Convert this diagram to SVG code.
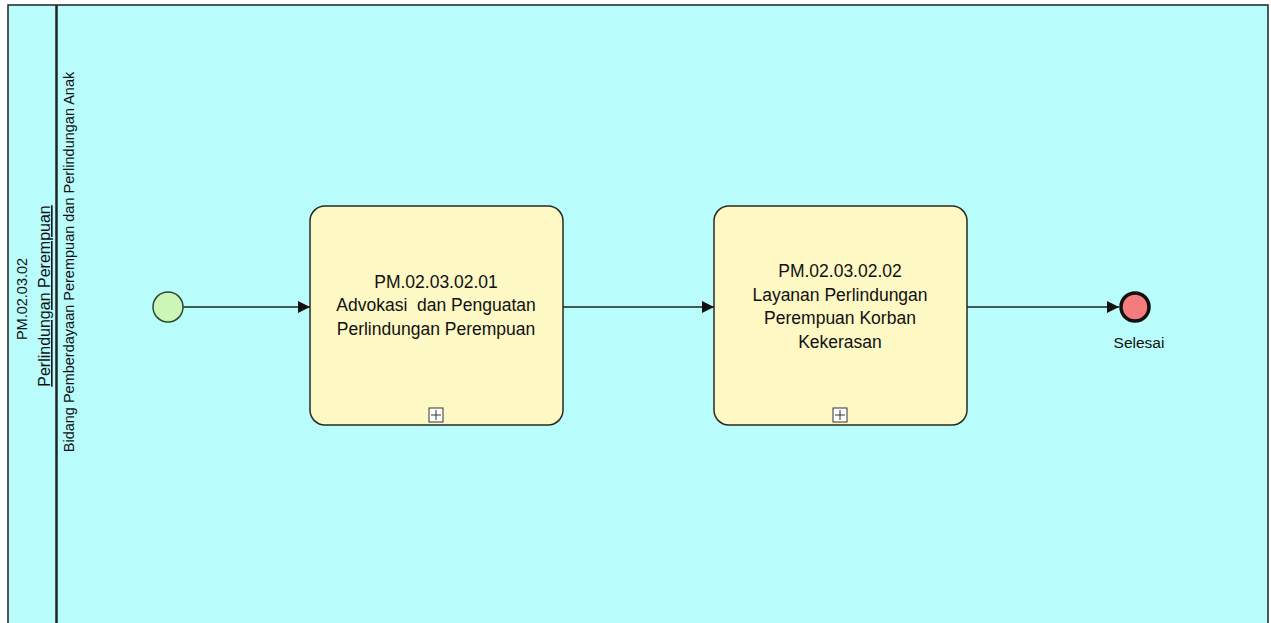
<svg xmlns="http://www.w3.org/2000/svg" width="1271" height="623" viewBox="0 0 1271 623">
<style>
text{font-family:"Liberation Sans",Arial,sans-serif;font-size:17.5px;fill:#111;white-space:pre}
.lane{font-size:14.5px}
.hd{font-size:16px}
.sm{font-size:15.5px}
.task{fill:#fdf8c4;stroke:#2a2a20;stroke-width:1.5}
.conn{stroke:#222;stroke-width:1.5;fill:none}
.tc{text-anchor:middle}
</style>
<defs>
<marker id="arr" markerWidth="12" markerHeight="12" refX="12" refY="6" orient="auto" markerUnits="userSpaceOnUse" viewBox="0 0 12 12">
<path d="M0,0 L12,6 L0,12 z" fill="#111"/>
</marker>
</defs>
<rect x="0" y="0" width="1271" height="623" fill="#fff"/>
<g id="pool">
<rect x="8" y="5" width="1260" height="630" fill="#b8fcfc" stroke="#222" stroke-width="1.5"/>
<line x1="56.5" y1="5" x2="56.5" y2="623" stroke="#222" stroke-width="2.5"/>
<text class="tc lane" transform="translate(27,299) rotate(-90)">PM.02.03.02</text>
<text class="tc hd" text-decoration="underline" transform="translate(50,296) rotate(-90)">Perlindungan Perempuan</text>
<text class="tc lane" transform="translate(74,262) rotate(-90)">Bidang Pemberdayaan Perempuan dan Perlindungan Anak</text>
</g>
<g id="connectors">
<line class="conn" x1="183" y1="307" x2="310" y2="307" marker-end="url(#arr)"/>
<line class="conn" x1="563" y1="307" x2="714" y2="307" marker-end="url(#arr)"/>
<line class="conn" x1="967" y1="307" x2="1119" y2="307" marker-end="url(#arr)"/>
</g>
<g id="start">
<circle cx="168" cy="307" r="15" fill="#ccf5b8" stroke="#2c4a30" stroke-width="1.5"/>
</g>
<g id="task1">
<rect class="task" x="310" y="206" width="253" height="219" rx="15"/>
<text class="tc" x="436" y="288">PM.02.03.02.01</text>
<text class="tc" x="436" y="311">Advokasi  dan Penguatan</text>
<text class="tc" x="436" y="335">Perlindungan Perempuan</text>
<rect x="429" y="408" width="14" height="14" fill="#fff" stroke="#333" stroke-width="1"/>
<path d="M436,410 V420 M431,415 H441" stroke="#333" stroke-width="1"/>
</g>
<g id="task2">
<rect class="task" x="714" y="206" width="253" height="219" rx="15"/>
<text class="tc" x="840" y="277">PM.02.03.02.02</text>
<text class="tc" x="840" y="301">Layanan Perlindungan</text>
<text class="tc" x="840" y="324">Perempuan Korban</text>
<text class="tc" x="840" y="348">Kekerasan</text>
<rect x="833" y="408" width="14" height="14" fill="#fff" stroke="#333" stroke-width="1"/>
<path d="M840,410 V420 M835,415 H845" stroke="#333" stroke-width="1"/>
</g>
<g id="end">
<circle cx="1135" cy="307" r="14" fill="#f47c7c" stroke="#111" stroke-width="3.5"/>
<text class="tc sm" x="1139" y="348">Selesai</text>
</g>
</svg>
